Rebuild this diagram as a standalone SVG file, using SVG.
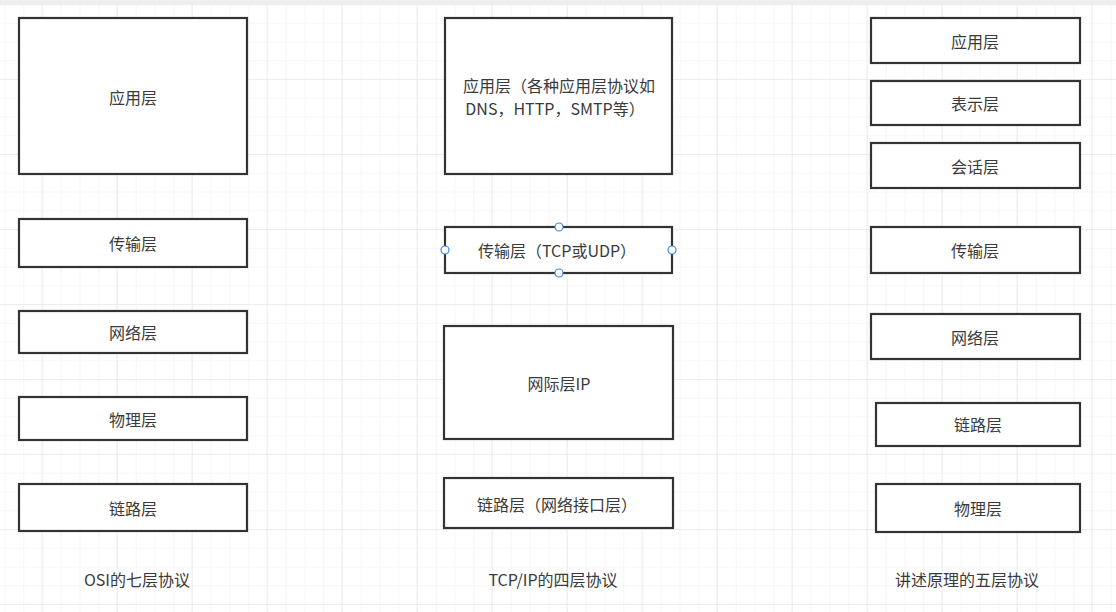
<svg xmlns="http://www.w3.org/2000/svg" width="1116" height="612" viewBox="0 0 1116 612">
<defs>
<pattern id="minor" patternUnits="userSpaceOnUse" x="4.5" y="4" width="18.75" height="18.75">
<path d="M0 0V18.75M0 0H18.75" fill="none" stroke="#f0f0f0" stroke-width="1.2"/>
</pattern>
<pattern id="major" patternUnits="userSpaceOnUse" x="41.5" y="4" width="75" height="75">
<path d="M0 0V75M0 0H75" fill="none" stroke="#e4e4e4" stroke-width="1.2"/>
</pattern>
</defs>
<style>
.box{fill:#fff;stroke:#333;stroke-width:2.2}
.t{font-family:"Microsoft YaHei","Noto Sans CJK SC",sans-serif;font-size:16px;fill:#3a3a3a;text-anchor:middle;dominant-baseline:central}
.h{fill:#fff;stroke:#3d86e4;stroke-width:1.2}
</style>
<rect width="1116" height="612" fill="#fff"/>
<rect y="4" width="1116" height="608" fill="url(#minor)"/>
<rect y="4" width="1116" height="608" fill="url(#major)"/>
<rect width="1116" height="4" fill="#efefef"/>
<g id="connectors"/>
<g id="osi-app"><rect class="box" x="19" y="18" width="228" height="156"/><text class="t" x="133" y="97">应用层</text></g>
<g id="osi-trans"><rect class="box" x="19" y="219" width="228" height="48"/><text class="t" x="133" y="243">传输层</text></g>
<g id="osi-net"><rect class="box" x="19" y="311" width="228" height="42"/><text class="t" x="133" y="332">网络层</text></g>
<g id="osi-phy"><rect class="box" x="19" y="397" width="228" height="43"/><text class="t" x="133" y="419">物理层</text></g>
<g id="osi-link"><rect class="box" x="19" y="484" width="228" height="47"/><text class="t" x="133" y="508">链路层</text></g>
<g id="osi-label"><text class="t" x="137" y="579">OSI的七层协议</text></g>
<g id="tcp-app"><rect class="box" x="445" y="18" width="227" height="156"/><text class="t" x="559" y="85">应用层（各种应用层协议如</text><text class="t" x="555" y="108">DNS，HTTP，SMTP等）</text></g>
<g id="tcp-trans"><rect class="box" x="445" y="227" width="227" height="46"/><text class="t" x="557" y="250">传输层（TCP或UDP）</text>
<circle class="h" cx="559" cy="227" r="4"/><circle class="h" cx="559" cy="273" r="4"/><circle class="h" cx="445" cy="250" r="4"/><circle class="h" cx="672" cy="250" r="4"/></g>
<g id="tcp-ip"><rect class="box" x="444" y="326" width="229" height="113"/><text class="t" x="559" y="383">网际层IP</text></g>
<g id="tcp-link"><rect class="box" x="444" y="478" width="229" height="50"/><text class="t" x="557" y="504">链路层（网络接口层）</text></g>
<g id="tcp-label"><text class="t" x="553" y="579">TCP/IP的四层协议</text></g>
<g id="five-app"><rect class="box" x="871" y="18" width="209" height="45"/><text class="t" x="975" y="41">应用层</text></g>
<g id="five-pres"><rect class="box" x="871" y="81" width="209" height="44"/><text class="t" x="975" y="103">表示层</text></g>
<g id="five-sess"><rect class="box" x="871" y="143" width="209" height="45"/><text class="t" x="975" y="166">会话层</text></g>
<g id="five-trans"><rect class="box" x="871" y="227" width="209" height="46"/><text class="t" x="975" y="250">传输层</text></g>
<g id="five-net"><rect class="box" x="871" y="314" width="209" height="45"/><text class="t" x="975" y="337">网络层</text></g>
<g id="five-link"><rect class="box" x="876" y="403" width="204" height="43"/><text class="t" x="978" y="424">链路层</text></g>
<g id="five-phy"><rect class="box" x="876" y="484" width="204" height="48"/><text class="t" x="978" y="508">物理层</text></g>
<g id="five-label"><text class="t" x="967" y="579">讲述原理的五层协议</text></g>
</svg>
